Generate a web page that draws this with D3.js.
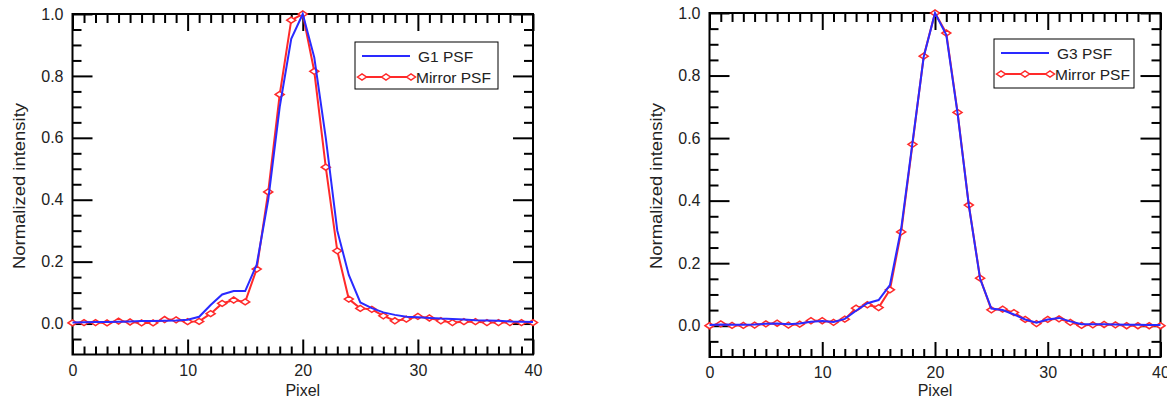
<!DOCTYPE html>
<html>
<head>
<meta charset="utf-8">
<script src="https://cdn.jsdelivr.net/npm/d3@7"></script>
<style>
  body { margin: 0; background: #fff; }
  svg { display: block; }
</style>
</head>
<body>
<script>
// pixel index along the slit
var pixels = d3.range(0, 41);

// left panel
var g1Psf = [0.003, 0.004, 0.005, 0.005, 0.006, 0.007, 0.008, 0.008, 0.009, 0.010,
    0.012, 0.022, 0.060, 0.094, 0.105, 0.105, 0.190, 0.400, 0.700, 0.920,
    1.000, 0.860, 0.600, 0.300, 0.157, 0.068, 0.050, 0.036, 0.028, 0.022,
    0.020, 0.018, 0.016, 0.015, 0.013, 0.011, 0.010, 0.009, 0.007, 0.006,
    0.005];
var mirrorPsf1 = [0.002, 0.003, 0.003, 0.002, 0.008, 0.005, 0.002, 0.002, 0.013, 0.012,
    0.006, 0.007, 0.032, 0.065, 0.076, 0.070, 0.176, 0.425, 0.740, 0.980,
    1.000, 0.815, 0.505, 0.235, 0.079, 0.049, 0.046, 0.025, 0.009, 0.014,
    0.023, 0.018, 0.009, 0.003, 0.006, 0.006, 0.003, 0.003, 0.003, 0.003,
    0.003];

// right panel
var g3Psf = [0.002, 0.004, 0.003, 0.003, 0.004, 0.006, 0.007, 0.005, 0.007, 0.013,
    0.015, 0.012, 0.022, 0.048, 0.072, 0.082, 0.130, 0.310, 0.585, 0.860,
    1.000, 0.930, 0.680, 0.385, 0.150, 0.055, 0.050, 0.036, 0.020, 0.010,
    0.020, 0.025, 0.014, 0.005, 0.005, 0.005, 0.004, 0.003, 0.003, 0.002,
    0.002];
var mirrorPsf3 = [0.000, 0.006, 0.001, 0.001, 0.002, 0.006, 0.008, 0.002, 0.005, 0.016,
    0.016, 0.011, 0.021, 0.056, 0.067, 0.058, 0.115, 0.300, 0.580, 0.862,
    1.000, 0.936, 0.682, 0.386, 0.152, 0.051, 0.053, 0.042, 0.020, 0.007,
    0.020, 0.022, 0.011, 0.001, 0.003, 0.004, 0.003, 0.000, 0.000, 0.000,
    0.000];

var xMajor = [0, 10, 20, 30, 40];
var yMajor = [0.0, 0.2, 0.4, 0.6, 0.8, 1.0];
var xMinor = pixels.filter(function(d) { return d % 10 !== 0; });
var yMinor = [-0.05, 0.05, 0.1, 0.15, 0.25, 0.3, 0.35, 0.45, 0.5, 0.55, 0.65, 0.7, 0.75, 0.85, 0.9, 0.95];

var panels = [
    { left: 72.5, right: 533, top: 14, bottom: 354.5, gName: "G1 PSF", g: g1Psf, m: mirrorPsf1,
      legend: { x: 355, y: 42, w: 143, h: 47 } },
    { left: 709.5, right: 1160.5, top: 13, bottom: 357, gName: "G3 PSF", g: g3Psf, m: mirrorPsf3,
      legend: { x: 994, y: 39, w: 140, h: 49 } }
];

var blue = "#2a2aff";
var red = "#ff2a2a";
var font = "'Liberation Sans', Arial, sans-serif";

var svg = d3.select("body")
    .append("svg")
    .attr("width", 1167)
    .attr("height", 404);

function diamond(sel, x, y) {
    sel.append("path")
        .attr("d", "M" + (x - 4.5) + "," + y + "L" + x + "," + (y - 3) + "L" + (x + 4.5) + "," + y + "L" + x + "," + (y + 3) + "Z")
        .attr("fill", "#fff")
        .attr("stroke", red)
        .attr("stroke-width", 1.5);
}

panels.forEach(function(p) {
    var x = d3.scaleLinear().domain([0, 40]).range([p.left, p.right]);
    var y = d3.scaleLinear().domain([-0.1, 1.0]).range([p.bottom, p.top]);
    var g = svg.append("g");

    // major axes with inward ticks
    var axes = [
        { a: d3.axisLeft(y).tickValues(yMajor).tickFormat(d3.format(".1f")).tickSize(-20), t: "translate(" + p.left + ",0)", pad: 9 },
        { a: d3.axisLeft(y).tickValues(yMinor).tickFormat("").tickSize(-9), t: "translate(" + p.left + ",0)", pad: 9 },
        { a: d3.axisRight(y).tickValues(yMajor).tickFormat("").tickSize(-20), t: "translate(" + p.right + ",0)", pad: 9 },
        { a: d3.axisRight(y).tickValues(yMinor).tickFormat("").tickSize(-9), t: "translate(" + p.right + ",0)", pad: 9 },
        { a: d3.axisBottom(x).tickValues(xMajor).tickFormat(d3.format("d")).tickSize(-15), t: "translate(0," + p.bottom + ")", pad: 10 },
        { a: d3.axisBottom(x).tickValues(xMinor).tickFormat("").tickSize(-8), t: "translate(0," + p.bottom + ")", pad: 10 },
        { a: d3.axisTop(x).tickValues(xMajor).tickFormat("").tickSize(-17), t: "translate(0," + p.top + ")", pad: 9 },
        { a: d3.axisTop(x).tickValues(xMinor).tickFormat("").tickSize(-9), t: "translate(0," + p.top + ")", pad: 9 }
    ];
    axes.forEach(function(ax) {
        var s = g.append("g")
            .attr("transform", ax.t)
            .call(ax.a.tickSizeOuter(0).tickPadding(ax.pad));
        s.select(".domain").remove();
        s.selectAll("line").attr("stroke", "#000").attr("stroke-width", 2);
        s.selectAll("text")
            .style("font-family", font)
            .style("font-size", "16px")
            .attr("fill", "#222");
    });

    // frame
    g.append("rect")
        .attr("x", p.left).attr("y", p.top)
        .attr("width", p.right - p.left).attr("height", p.bottom - p.top)
        .attr("fill", "none").attr("stroke", "#000").attr("stroke-width", 2);

    var line = function(vals) {
        return d3.line()
            .x(function(d, i) { return x(pixels[i]); })
            .y(function(d) { return y(d); })(vals);
    };

    // mirror psf (red, diamonds)
    g.append("path")
        .attr("d", line(p.m))
        .attr("fill", "none").attr("stroke", red).attr("stroke-width", 2);
    p.m.forEach(function(d, i) { diamond(g, x(pixels[i]), y(d)); });

    // grating psf (blue)
    g.append("path")
        .attr("d", line(p.g))
        .attr("fill", "none").attr("stroke", blue).attr("stroke-width", 2);

    // axis titles
    g.append("text")
        .attr("x", x(20))
        .attr("y", 396)
        .attr("text-anchor", "middle")
        .style("font-family", font).style("font-size", "16px").attr("fill", "#222")
        .text("Pixel");
    g.append("text")
        .attr("transform", "translate(" + (p.left - 48) + ",186) rotate(-90)")
        .attr("text-anchor", "middle")
        .attr("textLength", 166)
        .attr("lengthAdjust", "spacingAndGlyphs")
        .style("font-family", font).style("font-size", "17px").attr("fill", "#222")
        .text("Normalized intensity");

    // legend
    var L = p.legend;
    g.append("rect")
        .attr("x", L.x).attr("y", L.y).attr("width", L.w).attr("height", L.h)
        .attr("fill", "#fff").attr("stroke", "#000").attr("stroke-width", 1);
    g.append("line")
        .attr("x1", L.x + 7).attr("x2", L.x + 55)
        .attr("y1", L.y + 14).attr("y2", L.y + 14)
        .attr("stroke", blue).attr("stroke-width", 2);
    g.append("line")
        .attr("x1", L.x + 7).attr("x2", L.x + 57)
        .attr("y1", L.y + 35).attr("y2", L.y + 35)
        .attr("stroke", red).attr("stroke-width", 2);
    [7, 31, 56].forEach(function(dx) { diamond(g, L.x + dx, L.y + 35); });
    g.append("text")
        .attr("x", L.x + 63).attr("y", L.y + 20)
        .style("font-family", font).style("font-size", "15.5px").attr("fill", "#222")
        .text(p.gName);
    g.append("text")
        .attr("x", L.x + 61).attr("y", L.y + 41)
        .style("font-family", font).style("font-size", "15.5px").attr("fill", "#222")
        .text("Mirror PSF");
});
</script>
</body>
</html>
